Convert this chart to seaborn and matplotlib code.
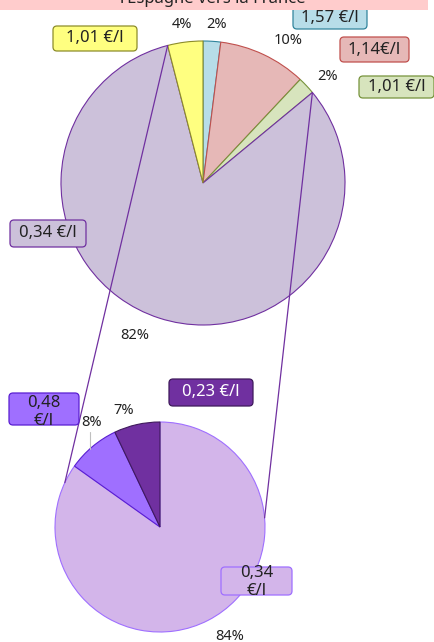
import numpy as np
import matplotlib.pyplot as plt
import seaborn as sns
from matplotlib.patches import Rectangle, FancyBboxPatch

sns.set_theme(style="white")
plt.rcParams['font.family'] = ['Noto Sans', 'DejaVu Sans']

# top pie: origin shares
top_vals = [2, 10, 2, 82, 4]
top_prices = ['1,57 €/l', '1,14€/l', '1,01 €/l', '0,34 €/l', '1,01 €/l']
top_colors = ['#b7dde8', '#e6b8b7', '#d7e4bd', '#ccc1da', '#ffff80']
top_edges = ['#31859c', '#c0504d', '#77933c', '#7030a0', '#8c8c2a']

# bottom pie: detail of the 82% slice
bot_vals = [84, 8, 7]
bot_prices = ['0,34\n€/l', '0,48\n€/l', '0,23 €/l']
bot_colors = ['#d3b5ea', '#9f6fff', '#7030a0']
bot_edges = ['#9f6fff', '#5a1fd1', '#3f1a5c']

H = 642
def py(y):
    # pixel row (from top) -> data y (from bottom)
    return H - y

fig = plt.figure(figsize=(4.35, 6.42), dpi=100)
ax = fig.add_axes([0, 0, 1, 1])

c_top, r_top = (203, py(183)), 142
c_bot, r_bot = (160, py(527)), 105

w1, t1 = ax.pie(top_vals, colors=top_colors, startangle=90, counterclock=False,
                center=c_top, radius=r_top, labels=[f"{v}%" for v in top_vals],
                labeldistance=1.15, frame=True,
                textprops=dict(fontsize=10.5, ha='center', va='center', color='#222222'))
for w, e in zip(w1, top_edges):
    w.set_edgecolor(e)
    w.set_linewidth(0.8)

w2, t2 = ax.pie(bot_vals, colors=bot_colors, startangle=90, counterclock=False,
                center=c_bot, radius=r_bot, labels=[f"{v}%" for v in bot_vals],
                labeldistance=1.2, frame=True,
                textprops=dict(fontsize=10.5, ha='center', va='center', color='#222222'))
for w, e in zip(w2, bot_edges):
    w.set_edgecolor(e)
    w.set_linewidth(0.8)

ax.set_xlim(0, 435)
ax.set_ylim(0, H)
ax.set_aspect('equal')
ax.axis('off')

# label placement as in the original (excel-style best fit)
top_lbl_pos = [(217, 25), (288, 41), (328, 76), (135, 336), (182, 25)]
for t, (x, y) in zip(t1, top_lbl_pos):
    t.set_position((x, py(y)))
bot_lbl_pos = [(230, 636), (92, 422), (124, 410)]
for t, (x, y) in zip(t2, bot_lbl_pos):
    t.set_position((x, py(y)))
ax.plot([90, 90], [py(449), py(432)], color='#bfbfbf', lw=0.8)

# connector lines from the 82% slice edges to the detail pie
big = w1[3]
for a_top, a_bot in [(big.theta1, 155), (big.theta2, 5)]:
    p1 = (c_top[0] + r_top * np.cos(np.radians(a_top)), c_top[1] + r_top * np.sin(np.radians(a_top)))
    p2 = (c_bot[0] + r_bot * np.cos(np.radians(a_bot)), c_bot[1] + r_bot * np.sin(np.radians(a_bot)))
    ax.plot([p1[0], p2[0]], [p1[1], p2[1]], color='#7030a0', lw=0.9, zorder=5)

# price boxes (x, y, w, h in pixels from top-left)
top_boxes = [(293, 7, 74, 22), (340, 37, 69, 25), (359, 76, 75, 22), (10, 220, 76, 27), (53, 26, 84, 25)]
bot_boxes = [(221, 567, 71, 28), (9, 393, 70, 32), (169, 379, 84, 27)]
bot_txt_dy = [1, 3, 0]
bot_txt_col = ['#222222', '#222222', 'white']

def box(b, txt, fc, ec, tc='#222222', dy=0):
    x, y, w, h = b
    ax.add_patch(FancyBboxPatch((x, py(y + h)), w, h, boxstyle='round,pad=0,rounding_size=4',
                                fc=fc, ec=ec, lw=0.9, zorder=6))
    ax.text(x + w / 2, py(y + h / 2 + dy), txt, fontsize=12, ha='center', va='center',
            color=tc, linespacing=1.15, zorder=7)

for b, txt, fc, ec in zip(top_boxes, top_prices, top_colors, top_edges):
    box(b, txt, fc, ec)
for b, txt, fc, ec, tc, dy in zip(bot_boxes, bot_prices, bot_colors, bot_edges, bot_txt_col, bot_txt_dy):
    box(b, txt, fc, ec, tc, dy)

# title band (cut at the top)
fig.patches.append(Rectangle((0, 1 - 10 / H), 428 / 435, 10 / H, transform=fig.transFigure,
                             fc='#ffcccc', ec='none', zorder=0))
fig.text(213 / 435, 1 + 1 / H, "l’Espagne vers la France", ha='center', va='center',
         fontsize=12, fontweight='bold', color='#222222')

fig.savefig('out.png', dpi=100)
